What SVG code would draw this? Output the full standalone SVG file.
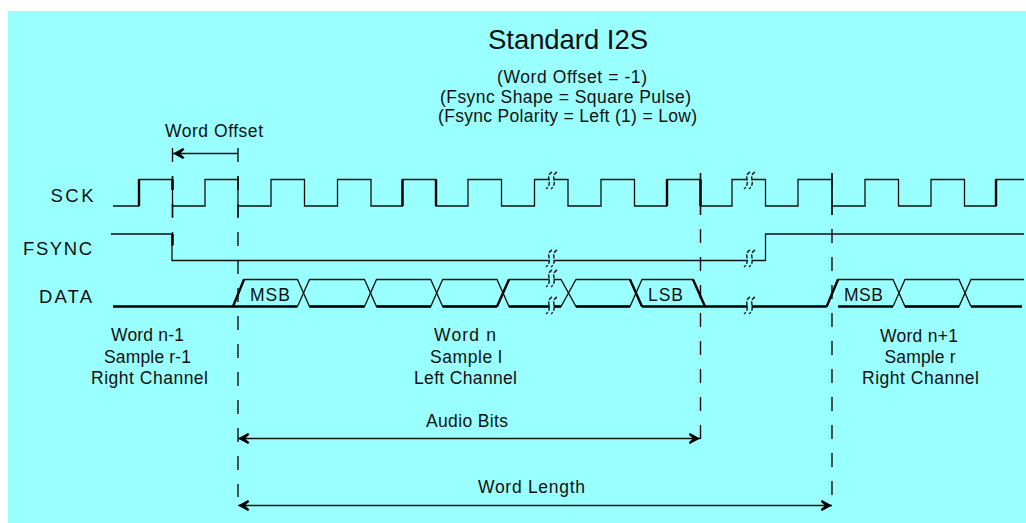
<svg xmlns="http://www.w3.org/2000/svg" width="1026" height="523" viewBox="0 0 1026 523">
<style>
text{font-family:"Liberation Sans",Arial,sans-serif;fill:#111;text-anchor:middle}
.w{fill:none;stroke:#111;stroke-width:1.3}
.t{fill:none;stroke:#000;stroke-width:2.4}
.d{fill:none;stroke:#111;stroke-width:1.4;stroke-dasharray:14 14}
.s{font-size:17.5px}
.l{font-size:18.5px}
.a{fill:none;stroke:#111;stroke-width:1.3}
</style>
<defs>
<marker id="ah" markerUnits="userSpaceOnUse" viewBox="0 -7 12 14" refX="11.5" refY="0" markerWidth="12" markerHeight="14" orient="auto-start-reverse">
<path d="M11.5,0L1.5,-5.5L0,-4L4.5,0L0,4L1.5,5.5Z" fill="#000"/>
</marker>
<g id="brk">
<path d="M4,0C-4,5 6,10 -2,17" fill="none" stroke="#99ffff" stroke-width="4" transform="translate(2.5,0)"/>
<path d="M4,0C-4,5 6,10 -2,17" fill="none" stroke="#222" stroke-width="1.5" stroke-dasharray="4 1.6"/>
<path d="M9,0C1,5 11,10 3,17" fill="none" stroke="#222" stroke-width="1.5" stroke-dasharray="4 1.6"/>
</g>
</defs>
<rect width="1026" height="523" fill="#fff"/>
<rect x="8" y="11" width="1018" height="512" fill="#99ffff"/>
<g id="title">
<text x="568" y="49" font-size="27.5" textLength="160">Standard I2S</text>
<text class="s" x="572" y="83" textLength="150">(Word Offset = -1)</text>
<text class="s" x="565.5" y="103" textLength="251">(Fsync Shape = Square Pulse)</text>
<text class="s" x="567.5" y="122" textLength="259">(Fsync Polarity = Left (1) = Low)</text>
</g>
<g id="connectors">
<g id="guides">
<path class="d" d="M172.5,148V246"/>
<path class="d" d="M172.5,176V217"/>
<path class="d" d="M238,148V497"/>
<path class="d" d="M238,176V217"/>
<path class="d" d="M700.5,173V439"/>
<path class="d" d="M832,173V496"/>
<path class="w" d="M700.5,173V215"/>
<path class="w" d="M832,173V215"/>
</g>
<g id="dimensions">
<path class="a" d="M238,153.5H173" marker-end="url(#ah)"/>
<path class="a" d="M238,438.5H700" marker-start="url(#ah)" marker-end="url(#ah)"/>
<path class="a" d="M238,505.5H832" marker-start="url(#ah)" marker-end="url(#ah)"/>
</g>
</g>
<g id="sck">
<text class="l" x="72" y="202" textLength="43">SCK</text>
<path class="w" d="M113,206H139V179.5H172.5V206H205V179.5H238V206H271V179.5H304.5V206H337.5V179.5H371V206H402.5V179.5H436V206H468V179.5H501.5V206H534.5V179.5H568V206H601V179.5H634.5V206H667V179.5H700.5V206H732V179.5H765.5V206H798V179.5H832V206H865V179.5H898.5V206H931V179.5H964.5V206H996V179.5H1024"/>
<path class="t" d="M139,206V179.5M402.5,206V179.5M436,206V179.5M667,206V179.5M700.5,206V179.5M996,206V179.5M172.5,179.5V190"/>
</g>
<g id="fsync">
<text class="l" x="57.5" y="255" textLength="69">FSYNC</text>
<path class="w" d="M111,234H172V260.5H765.5V234H1024"/>
<path class="t" d="M172.5,234V245"/>
</g>
<g id="data">
<text class="l" x="65.5" y="302.5" textLength="53">DATA</text>
<path class="w" d="M233,306.5L244,279.5H297.5L309.5,306.5H364.5L376.5,279.5H430.7L442.7,306.5H497L509,279.5H561L576,306.5H630L642,279.5H693L705,306.5"/>
<path class="w" d="M297.5,306.5L309.5,279.5H364.5L376.5,306.5H430.7L442.7,279.5H497L509,306.5H561L576,279.5H630L642,306.5"/>
<path class="w" d="M826.7,306.5L838,279.5H893L905,306.5H959L971,279.5H1024"/>
<path class="w" d="M893,306.5L905,279.5H959L971,306.5"/>
<path class="t" d="M113,306.5H297.5M309.5,306.5H364.5M376.5,306.5H430.7M442.7,306.5H497M509,306.5H561M576,306.5H630M642,306.5H826.7M905,306.5H959M971,306.5H1022M838,306.5H893"/>
<path class="t" d="M233,306.5L244,279.5M693,279.5L705,306.5M826.7,306.5L838,279.5M497,306.5L509,279.5M630,279.5L642,306.5"/>
<text class="s" x="270" y="301" textLength="40">MSB</text>
<text class="s" x="665.5" y="301" textLength="35">LSB</text>
<text class="s" x="863.5" y="301" textLength="39">MSB</text>
</g>
<g id="breaks">
<use href="#brk" x="548" y="172"/>
<use href="#brk" x="548" y="250"/>
<use href="#brk" x="548" y="270"/>
<use href="#brk" x="548" y="297"/>
<use href="#brk" x="746" y="172"/>
<use href="#brk" x="746" y="250"/>
<use href="#brk" x="746" y="297"/>
</g>
<g id="word-n-1">
<text class="s" x="147.5" y="341" textLength="73">Word n-1</text>
<text class="s" x="147.5" y="362.5" textLength="87">Sample r-1</text>
<text class="s" x="149.5" y="383.5" textLength="117">Right Channel</text>
</g>
<g id="word-n">
<text class="s" x="465" y="341" textLength="62">Word n</text>
<text class="s" x="466" y="362.5" textLength="72">Sample l</text>
<text class="s" x="465.5" y="384" textLength="103">Left Channel</text>
</g>
<g id="word-n1">
<text class="s" x="919" y="341.5" textLength="78">Word n+1</text>
<text class="s" x="920" y="362.5" textLength="71">Sample r</text>
<text class="s" x="920.5" y="384" textLength="117">Right Channel</text>
</g>
<g id="dimension-labels">
<text class="s" x="214" y="137" textLength="98">Word Offset</text>
<text class="s" x="467" y="427" textLength="82">Audio Bits</text>
<text class="s" x="531.5" y="493" textLength="107">Word Length</text>
</g>
</svg>
